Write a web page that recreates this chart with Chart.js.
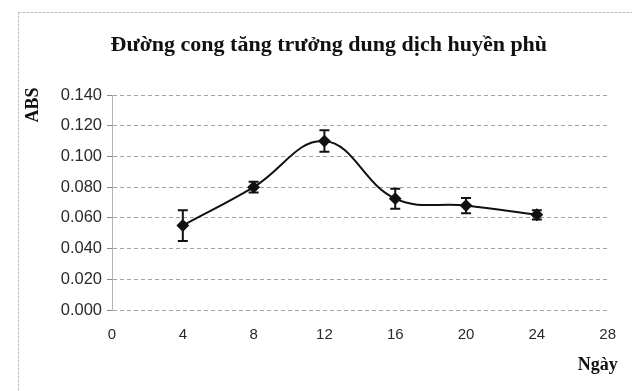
<!DOCTYPE html>
<html>
<head>
<meta charset="utf-8">
<script src="https://cdn.jsdelivr.net/npm/chart.js@4.4.1/dist/chart.umd.min.js"></script>
<style>
  html, body { margin: 0; padding: 0; background: #fff; }
  #wrap { width: 632px; height: 391px; }
</style>
</head>
<body>
<div id="wrap"><canvas id="c" width="632" height="391"></canvas></div>
<script>
// Growth curve of the suspension culture: absorbance by day, with error bars
const days = [4, 8, 12, 16, 20, 24];
const absValues = [0.055, 0.080, 0.110, 0.0725, 0.068, 0.062];
const absErrors = [0.010, 0.0035, 0.007, 0.0065, 0.005, 0.003];
const xTickValues = [0, 4, 8, 12, 16, 20, 24, 28];
const yTickValues = [0, 0.02, 0.04, 0.06, 0.08, 0.10, 0.12, 0.14];

const titleText = 'Đường cong tăng trưởng dung dịch huyền phù';
const yTitleText = 'ABS';
const xTitleText = 'Ngày';

const points = days.map((d, i) => ({ x: d, y: absValues[i] }));

// Frame, chart title and axis titles
const decorPlugin = {
  id: 'decor',
  beforeDraw(chart) {
    const ctx = chart.ctx;
    ctx.save();
    ctx.fillStyle = '#fff';
    ctx.fillRect(0, 0, chart.width, chart.height);
    ctx.strokeStyle = '#bdbdbd';
    ctx.lineWidth = 1;
    ctx.setLineDash([3, 1]);
    ctx.strokeRect(18.5, 12.5, chart.width, chart.height);
    ctx.restore();
  },
  afterDraw(chart) {
    const ctx = chart.ctx;
    const a = chart.chartArea;
    ctx.save();
    ctx.fillStyle = '#111';
    ctx.textAlign = 'center';
    ctx.textBaseline = 'middle';
    ctx.font = 'bold 22px "Liberation Serif", "Times New Roman", serif';
    ctx.fillText(titleText, (a.left + a.right) / 2 - 31, a.top - 50);

    ctx.font = 'bold 18px "Liberation Serif", "Times New Roman", serif';
    ctx.fillText(xTitleText, a.right - 10, a.bottom + 55);

    ctx.translate(a.left - 79, a.top + 10);
    ctx.rotate(-Math.PI / 2);
    ctx.fillText(yTitleText, 0, 0);
    ctx.restore();
  }
};

// Vertical error bars with caps, drawn through the chart scales
const errorBarPlugin = {
  id: 'errorBars',
  afterDatasetsDraw(chart) {
    const ctx = chart.ctx;
    const xs = chart.scales.x, ys = chart.scales.y;
    const cap = 5;
    ctx.save();
    ctx.strokeStyle = '#111';
    ctx.lineWidth = 2;
    days.forEach((d, i) => {
      const px = xs.getPixelForValue(d);
      const top = ys.getPixelForValue(absValues[i] + absErrors[i]);
      const bot = ys.getPixelForValue(absValues[i] - absErrors[i]);
      ctx.beginPath();
      ctx.moveTo(px, top); ctx.lineTo(px, bot);
      ctx.moveTo(px - cap, top); ctx.lineTo(px + cap, top);
      ctx.moveTo(px - cap, bot); ctx.lineTo(px + cap, bot);
      ctx.stroke();
    });
    ctx.restore();
  }
};

new Chart(document.getElementById('c'), {
  type: 'scatter',
  data: {
    datasets: [{
      data: points,
      showLine: true,
      tension: 0.4,
      borderColor: '#111',
      borderWidth: 2,
      pointStyle: 'rectRot',
      pointRadius: 5,
      pointBackgroundColor: '#111',
      pointBorderColor: '#111'
    }]
  },
  options: {
    responsive: false,
    animation: false,
    events: [],
    layout: { padding: { top: 95, right: 22, bottom: 0, left: 20 } },
    plugins: {
      legend: { display: false },
      title: { display: false },
      tooltip: { enabled: false }
    },
    scales: {
      x: {
        type: 'linear',
        min: 0,
        max: 28,
        afterBuildTicks(scale) { scale.ticks = xTickValues.map(v => ({ value: v })); },
        afterFit(scale) { scale.height = 81; },
        grid: { display: false, drawTicks: false },
        border: { display: false },
        ticks: {
          padding: 16,
          color: '#2a2a2a',
          font: { family: '"Liberation Sans", Arial, sans-serif', size: 15 }
        }
      },
      y: {
        min: 0,
        max: 0.14,
        afterBuildTicks(scale) { scale.ticks = yTickValues.map(v => ({ value: v })); },
        afterFit(scale) { scale.width = 92; },
        grid: {
          color: '#a3a3a3',
          lineWidth: 1,
          drawTicks: true,
          tickLength: 5,
          tickColor: '#8a8a8a',
          tickBorderDash: []
        },
        border: { display: true, color: '#b3b3b3', width: 1, dash: [4, 3] },
        ticks: {
          padding: 5,
          color: '#2a2a2a',
          font: { family: '"Liberation Sans", Arial, sans-serif', size: 16.5 },
          callback: v => Number(v).toFixed(3)
        }
      }
    }
  },
  plugins: [decorPlugin, errorBarPlugin]
});
</script>
</body>
</html>
